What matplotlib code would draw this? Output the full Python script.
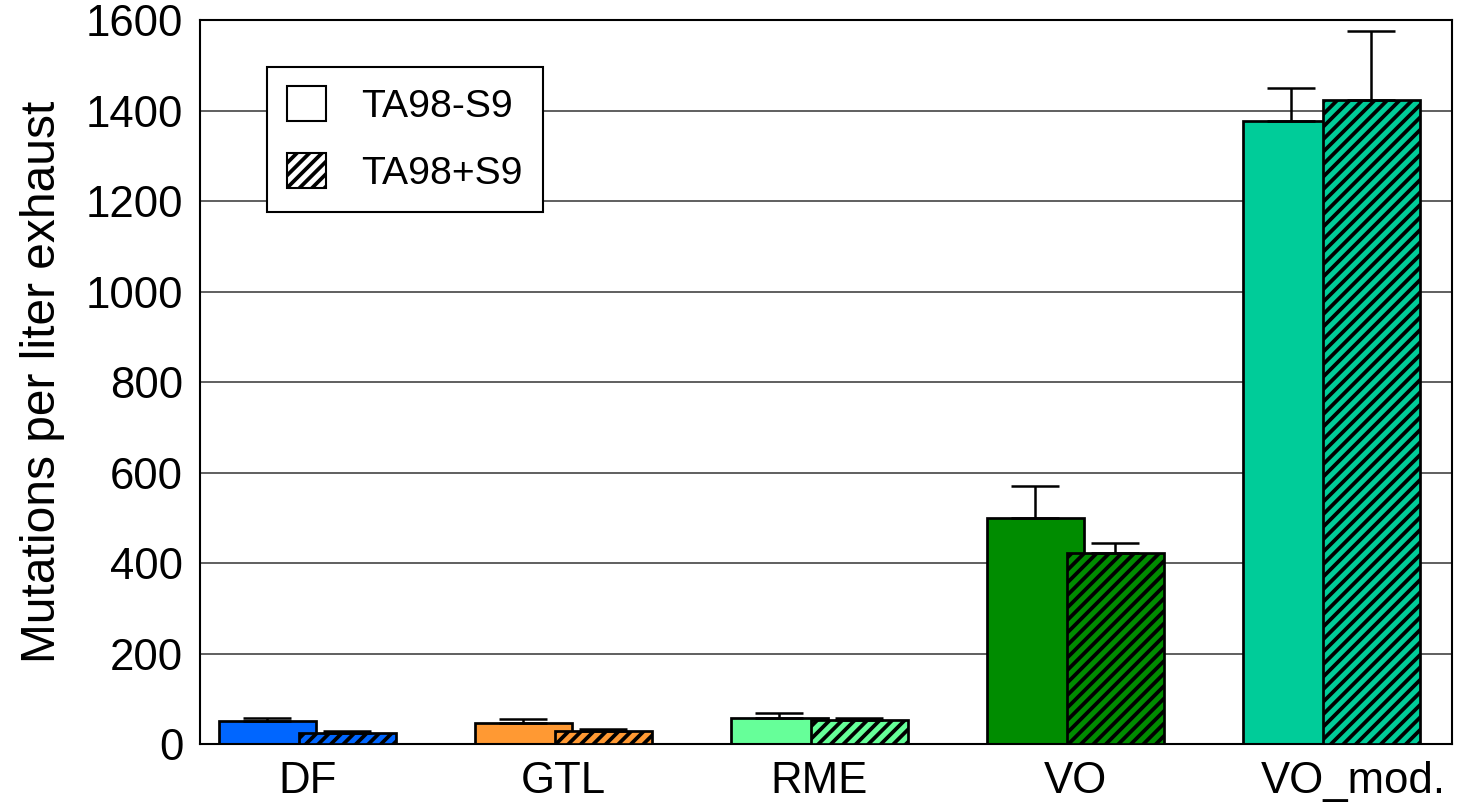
import matplotlib.pyplot as plt
import matplotlib.transforms as mtransforms
from matplotlib.patches import Patch
import numpy as np

plt.rcParams['font.family'] = ['Liberation Sans', 'DejaVu Sans']
plt.rcParams['hatch.linewidth'] = 1.8
plt.rcParams['hatch.color'] = 'black'

# exhaust samples
fuels = ["DF", "GTL", "RME", "VO", "VO_mod."]
colors = ["#0066ff", "#ff9933", "#66ff99", "#008c00", "#00cc99"]

# TA98 without / with S9 activation
minus_s9 = [51, 46, 57, 500, 1377]
minus_s9_err = [6, 9, 11, 70, 73]
plus_s9 = [24, 29, 53, 422, 1423]
plus_s9_err = [5, 4, 4, 22, 153]

x = np.arange(len(fuels))
w = 0.379
off = 0.156

fig = plt.figure(figsize=(1459/150, 810/150), dpi=150)
ax = fig.add_axes([0.137, 0.0815, 0.858, 0.8935])

for i in range(len(fuels)):
    ax.bar(x[i]-off, minus_s9[i], w, color=colors[i], edgecolor='black', linewidth=1.3, zorder=2)
    ax.errorbar(x[i]-off, minus_s9[i], yerr=[[0], [minus_s9_err[i]]], color='black',
                elinewidth=1.2, capsize=11.5, capthick=1.2, zorder=2.5)
    ax.bar(x[i]+off, plus_s9[i], w, color=colors[i], edgecolor='black', linewidth=1.3,
           hatch='////', zorder=3)
    ax.errorbar(x[i]+off, plus_s9[i], yerr=[[0], [plus_s9_err[i]]], color='black',
                elinewidth=1.2, capsize=11.5, capthick=1.2, zorder=3.5)

ax.set_xlim(-0.42, 4.47)
ax.set_ylim(0, 1600)
ax.set_yticks(range(0, 1601, 200))
ax.set_xticks(x)
ax.set_xticklabels(fuels)
ax.tick_params(axis='both', length=0, labelsize=21, pad=8)
# last label sits a bit right of its group
last = ax.get_xticklabels()[-1]
last.set_transform(last.get_transform() + mtransforms.ScaledTranslation(22/150, 0, fig.dpi_scale_trans))
ax.yaxis.grid(True, color='#444444', linewidth=0.8)
ax.set_axisbelow(True)
for s in ax.spines.values():
    s.set_color('black')
    s.set_linewidth(1.0)
ax.set_ylabel("Mutations per liter exhaust", fontsize=23, labelpad=10)

handles = [Patch(facecolor='white', edgecolor='black', linewidth=1.0, label="TA98-S9"),
           Patch(facecolor='white', edgecolor='black', linewidth=1.0, hatch='////', label="TA98+S9")]
leg = ax.legend(handles=handles, loc='upper left', bbox_to_anchor=(0.054, 0.936),
                fontsize=18.8, fancybox=False, framealpha=1, edgecolor='black',
                handlelength=1.0, handleheight=1.0, handletextpad=0.9,
                borderpad=0.5, labelspacing=0.72, borderaxespad=0)
leg.get_frame().set_linewidth(1.0)

fig.savefig("out.png", dpi=150)
